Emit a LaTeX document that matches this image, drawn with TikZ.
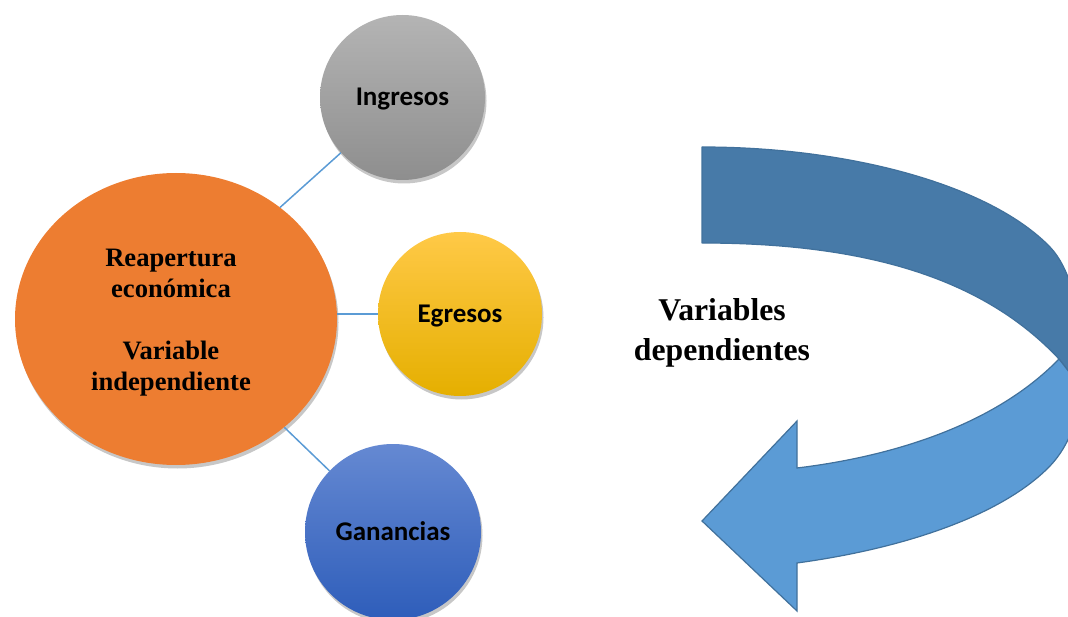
\documentclass[tikz,border=0pt]{standalone}
\usepackage{fontspec}
\setmainfont{Liberation Serif}
\newfontfamily\calib{Carlito}
\usetikzlibrary{shapes.geometric,shadows}
\definecolor{orangeF}{HTML}{ED7D31}
\definecolor{lineblue}{HTML}{5B9BD5}
\definecolor{arrowdark}{HTML}{477AA8}
\definecolor{arrowlight}{HTML}{5B9BD5}
\definecolor{arrowline}{HTML}{41719C}
\definecolor{grayTop}{HTML}{B4B4B4}
\definecolor{grayBot}{HTML}{8E8E8E}
\definecolor{yelTop}{HTML}{FFC947}
\definecolor{yelMid}{HTML}{FFC000}
\definecolor{yelBot}{HTML}{E5AF00}
\definecolor{bluTop}{HTML}{6589D2}
\definecolor{bluBot}{HTML}{2E5DBA}
\begin{document}
\begin{tikzpicture}[x=1pt,y=-1pt,
  conn/.style={draw=lineblue, line width=1.5pt},
  softshadow/.style={drop shadow={shadow xshift=1.5pt,shadow yshift=-3.5pt,opacity=0.22,fill=black}},
  bubble/.style={circle, inner sep=0pt, minimum size=165pt, text height=17pt, text depth=0pt,
    font=\calib\bfseries\fontsize{27}{32}\selectfont, softshadow},
  ingshade/.style={top color=grayTop, bottom color=grayBot},
  egrshade/.style={top color=yelTop, middle color=yelMid, bottom color=yelBot},
  ganshade/.style={top color=bluTop, bottom color=bluBot},
  mainell/.style={ellipse, fill=orangeF, inner sep=0pt, minimum width=322pt, minimum height=292pt, softshadow},
  maintext/.style={align=center, font=\bfseries\fontsize{26.6}{31}\selectfont},
  deptext/.style={align=center, font=\bfseries\fontsize{31.7}{40}\selectfont},
  backband/.style={fill=arrowdark, draw=arrowline, line width=1.2pt, line join=round},
  frontband/.style={fill=arrowlight, draw=arrowline, line width=1.2pt, line join=miter}
]
\useasboundingbox (0,0) rectangle (1068,617);
\clip (0,0) rectangle (1068,617);

% bubbles
\node[mainell] (orange) at (176,319) {};
\node[maintext] (mtext) at (171,323) {Reapertura\\económica\\[31pt]Variable\\independiente};
\node[bubble, ingshade] (ing) at (402.5,97.5) {Ingresos};
\node[bubble, egrshade, minimum size=164pt] (egr) at (460,314) {Egresos};
\node[bubble, ganshade, minimum size=176pt] (gan) at (393,532) {Ganancias};

% connectors
\draw[conn] (orange.47) -- (ing);
\draw[conn] (orange.east |- egr) -- (egr);
\draw[conn] (orange.-45) -- (gan);

% curved arrow
\coordinate (tailtop) at (702,147);
\coordinate (tailbot) at (702,243);
\coordinate (outA) at (1050,247);
\coordinate (outR) at (1081,356);
\coordinate (crossout) at (1080,386);
\coordinate (cross) at (1059,359);
\coordinate (outB) at (1050,466);
\coordinate (neckout) at (797,563);
\coordinate (barbbot) at (797,611);
\coordinate (tip) at (702,521);
\coordinate (barbtop) at (797,421);
\coordinate (neckin) at (797,468);

\filldraw[backband] (tailtop) .. controls (850,147) and (990,185) .. (outA)
  .. controls (1070,268) and (1081,310) .. (outR) -- (crossout) -- (cross)
  .. controls (985,280) and (870,243) .. (tailbot) -- cycle;

\filldraw[frontband] (cross) -- (crossout) .. controls (1080,415) and (1070,445) .. (outB)
  .. controls (1003,514.5) and (907,548) .. (neckout)
  -- (barbbot) -- (tip) -- (barbtop) -- (neckin)
  .. controls (880,458) and (990,430) .. (cross) -- cycle;

\node[deptext] (dep) at (722,333) {Variables\\dependientes};
\end{tikzpicture}
\end{document}
